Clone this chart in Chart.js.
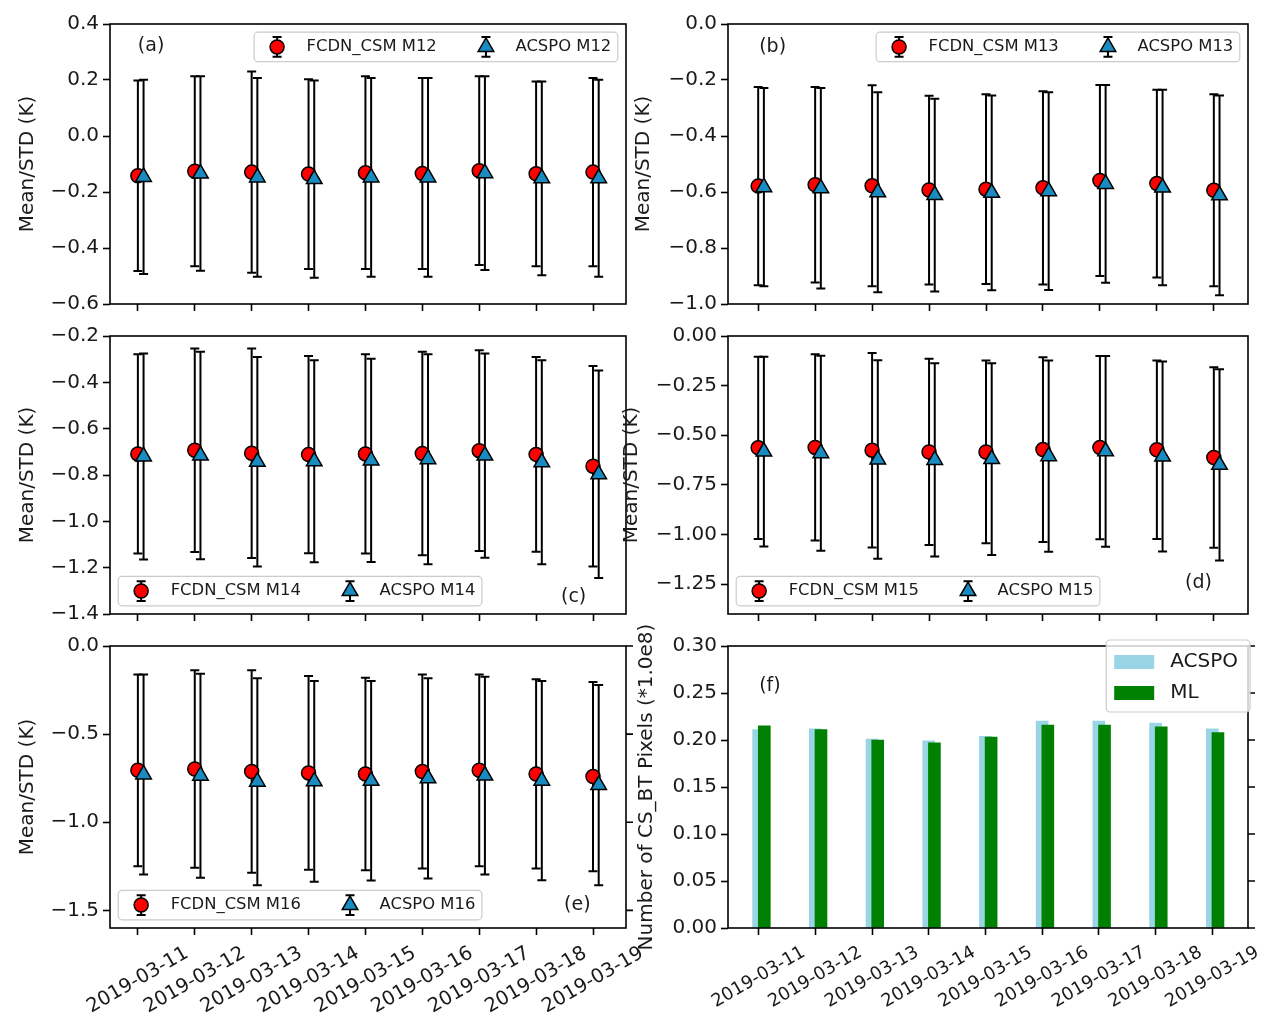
<!DOCTYPE html>
<html>
<head>
<meta charset="utf-8">
<script src="https://cdn.jsdelivr.net/npm/chart.js"></script>
<style>
  body { margin: 0; background: #fff; }
  #fig { position: relative; width: 1271px; height: 1027px; overflow: hidden; background: #fff; }
  #fig canvas { position: absolute; }
</style>
</head>
<body>
<div id="fig">
  <canvas id="pa" width="660" height="320" style="left:0px;top:0px"></canvas>
  <canvas id="pb" width="671" height="320" style="left:600px;top:0px"></canvas>
  <canvas id="pc" width="660" height="310" style="left:0px;top:320px"></canvas>
  <canvas id="pd" width="671" height="310" style="left:600px;top:320px"></canvas>
  <canvas id="pe" width="660" height="397" style="left:0px;top:630px"></canvas>
  <canvas id="pf" width="671" height="417" style="left:600px;top:610px"></canvas>
</div>
<script>
// ---- data ----
const dates = ['2019-03-11', '2019-03-12', '2019-03-13', '2019-03-14', '2019-03-15',
               '2019-03-16', '2019-03-17', '2019-03-18', '2019-03-19'];

// mean and std (K), FCDN_CSM and ACSPO, per band
const fcdnM12     = [-0.142, -0.126, -0.129, -0.136, -0.131, -0.134, -0.124, -0.135, -0.129];
const fcdnM12Std  = [0.340, 0.339, 0.359, 0.339, 0.344, 0.341, 0.337, 0.330, 0.336];
const acspoM12    = [-0.146, -0.134, -0.148, -0.154, -0.148, -0.148, -0.133, -0.151, -0.151];
const acspoM12Std = [0.347, 0.347, 0.355, 0.352, 0.355, 0.355, 0.346, 0.346, 0.352];

const fcdnM13     = [-0.579, -0.574, -0.578, -0.593, -0.590, -0.585, -0.559, -0.570, -0.594];
const fcdnM13Std  = [0.354, 0.349, 0.359, 0.337, 0.339, 0.345, 0.341, 0.335, 0.343];
const acspoM13    = [-0.583, -0.587, -0.601, -0.611, -0.603, -0.597, -0.571, -0.584, -0.612];
const acspoM13Std = [0.354, 0.358, 0.357, 0.344, 0.348, 0.353, 0.353, 0.349, 0.357];

const fcdnM14     = [-0.709, -0.693, -0.706, -0.712, -0.709, -0.707, -0.695, -0.711, -0.762];
const fcdnM14Std  = [0.430, 0.439, 0.452, 0.426, 0.430, 0.439, 0.433, 0.420, 0.433];
const acspoM14    = [-0.720, -0.716, -0.743, -0.741, -0.737, -0.732, -0.716, -0.745, -0.797];
const acspoM14Std = [0.445, 0.448, 0.452, 0.436, 0.439, 0.453, 0.441, 0.440, 0.448];

const fcdnM15     = [-0.563, -0.561, -0.575, -0.584, -0.584, -0.572, -0.562, -0.573, -0.612];
const fcdnM15Std  = [0.459, 0.469, 0.490, 0.469, 0.460, 0.465, 0.461, 0.449, 0.454];
const acspoM15    = [-0.582, -0.590, -0.622, -0.624, -0.620, -0.605, -0.581, -0.607, -0.649];
const acspoM15Std = [0.478, 0.491, 0.500, 0.487, 0.483, 0.481, 0.480, 0.478, 0.482];

const fcdnM16     = [-0.705, -0.698, -0.712, -0.720, -0.726, -0.712, -0.705, -0.726, -0.741];
const fcdnM16Std  = [0.544, 0.560, 0.574, 0.550, 0.546, 0.551, 0.544, 0.537, 0.537];
const acspoM16    = [-0.729, -0.736, -0.770, -0.768, -0.765, -0.751, -0.735, -0.764, -0.789];
const acspoM16Std = [0.568, 0.579, 0.587, 0.569, 0.566, 0.568, 0.561, 0.565, 0.568];

// number of clear-sky BT pixels (*1.0e8)
const pixelsAcspo = [0.211, 0.212, 0.201, 0.199, 0.204, 0.220, 0.220, 0.218, 0.212];
const pixelsMl    = [0.215, 0.211, 0.200, 0.197, 0.203, 0.216, 0.216, 0.214, 0.208];

// tick values of the y axes
const ticksA = [-0.6, -0.4, -0.2, 0.0, 0.2, 0.4];
const ticksB = [-1.0, -0.8, -0.6, -0.4, -0.2, 0.0];
const ticksC = [-1.4, -1.2, -1.0, -0.8, -0.6, -0.4, -0.2];
const ticksD = [-1.25, -1.0, -0.75, -0.5, -0.25, 0.0];
const ticksE = [-1.5, -1.0, -0.5, 0.0];
const ticksF = [0.0, 0.05, 0.10, 0.15, 0.20, 0.25, 0.30];

// ---- style ----
const TXT = '#1a1a1a';
const RED = '#ff0000';
const BLUE = '#1a8bc0';
const DODGE = 0.1;       // ACSPO is drawn a little to the right of each day
Chart.defaults.font.family = '"DejaVu Sans", sans-serif';
Chart.defaults.color = TXT;
Chart.defaults.animation = false;

function fmt(v, dec) {
  if (Math.abs(v) < 1e-9) return (0).toFixed(dec);
  return (v < 0 ? '\u2212' : '') + Math.abs(v).toFixed(dec);
}

function legendBox(ctx, x, y, w, h) {
  ctx.beginPath();
  ctx.roundRect(x, y, w, h, 4);
  ctx.fillStyle = 'rgba(255,255,255,0.8)';
  ctx.fill();
  ctx.strokeStyle = '#cccccc';
  ctx.lineWidth = 1.2;
  ctx.stroke();
}

function errLegend(ctx, chart, o) {
  const a = chart.chartArea, f = o.legendSize;
  ctx.font = f + 'px "DejaVu Sans"';
  const items = chart.data.datasets;
  const pad = 0.4 * f, hl = 2 * f, htp = 0.8 * f, cs = 2 * f;
  const widths = items.map(ds => ctx.measureText(ds.label).width);
  const W = 2 * pad + items.length * (hl + htp) + widths.reduce((s, w) => s + w, 0) + cs * (items.length - 1);
  const H = 1.8 * f;
  const x0 = o.legendLoc.includes('right') ? a.right - 0.5 * f - W : a.left + 0.5 * f;
  const y0 = o.legendLoc.includes('upper') ? a.top + 0.5 * f : a.bottom - 0.5 * f - H;
  legendBox(ctx, x0, y0, W, H);
  const cy = y0 + H / 2;
  let x = x0 + pad;
  items.forEach((ds, i) => {
    const mx = x + hl / 2, e = 0.6 * f;
    ctx.strokeStyle = '#000';
    ctx.lineWidth = o.errWidth;
    ctx.beginPath();
    ctx.moveTo(mx, cy - e); ctx.lineTo(mx, cy + e);
    ctx.moveTo(mx - o.cap, cy - e); ctx.lineTo(mx + o.cap, cy - e);
    ctx.moveTo(mx - o.cap, cy + e); ctx.lineTo(mx + o.cap, cy + e);
    ctx.stroke();
    ctx.fillStyle = ds.backgroundColor;
    ctx.strokeStyle = '#000';
    ctx.lineWidth = ds.borderWidth;
    Chart.helpers.drawPoint(ctx, {pointStyle: ds.pointStyle, radius: ds.pointRadius, rotation: 0, borderWidth: ds.borderWidth}, mx, cy);
    x += hl + htp;
    ctx.fillStyle = TXT;
    ctx.textAlign = 'left';
    ctx.textBaseline = 'middle';
    ctx.fillText(ds.label, x, cy);
    x += widths[i] + cs;
  });
}

function barLegend(ctx, chart, o) {
  const a = chart.chartArea, f = o.legendSize;
  ctx.font = f + 'px "DejaVu Sans"';
  const items = chart.data.datasets;
  const pad = 0.4 * f, hl = 2 * f, htp = 0.8 * f;
  const tw = Math.max(...items.map(ds => ctx.measureText(ds.label).width));
  const W = 2 * pad + hl + htp + tw + 4;
  const H = 3.6 * f;
  const x0 = a.right + 2 - W, y0 = a.top - 6;
  legendBox(ctx, x0, y0, W, H);
  items.forEach((ds, i) => {
    const cy = y0 + 1.1 * f + i * 1.55 * f;
    ctx.fillStyle = ds.backgroundColor;
    ctx.fillRect(x0 + pad, cy - 0.35 * f, hl, 0.7 * f);
    ctx.fillStyle = TXT;
    ctx.textAlign = 'left';
    ctx.textBaseline = 'middle';
    ctx.fillText(ds.label, x0 + pad + hl + htp, cy);
  });
}

const deco = {
  id: 'deco',
  beforeDatasetsDraw(chart, args, o) {
    const ctx = chart.ctx, ys = chart.scales.y;
    chart.data.datasets.forEach((ds, di) => {
      if (!ds.errors) return;
      const meta = chart.getDatasetMeta(di);
      ctx.save();
      ctx.strokeStyle = '#000';
      ctx.lineWidth = o.errWidth;
      ctx.beginPath();
      meta.data.forEach((el, i) => {
        const m = ds.data[i].y, e = ds.errors[i];
        const t = ys.getPixelForValue(m + e), b = ys.getPixelForValue(m - e);
        ctx.moveTo(el.x, t); ctx.lineTo(el.x, b);
        ctx.moveTo(el.x - o.cap, t); ctx.lineTo(el.x + o.cap, t);
        ctx.moveTo(el.x - o.cap, b); ctx.lineTo(el.x + o.cap, b);
      });
      ctx.stroke();
      ctx.restore();
    });
  },
  afterDraw(chart, args, o) {
    const ctx = chart.ctx, a = chart.chartArea;
    const ys = chart.scales.y, xs = chart.scales.x;
    ctx.save();
    ctx.strokeStyle = '#000';
    ctx.lineWidth = 1.6;
    ctx.strokeRect(a.left, a.top, a.right - a.left, a.bottom - a.top);
    if (o.rightTicks) {
      ctx.beginPath();
      ys.ticks.forEach(t => {
        const py = ys.getPixelForValue(t.value);
        ctx.moveTo(a.right, py); ctx.lineTo(a.right + 7, py);
      });
      ctx.stroke();
    }
    if (o.dateSize) {
      ctx.font = o.dateSize + 'px "DejaVu Sans"';
      ctx.fillStyle = TXT;
      xs.ticks.forEach(t => {
        const label = dates[Math.round(t.value)];
        const px = xs.getPixelForValue(t.value);
        const L = ctx.measureText(label).width, h = 1.17 * o.dateSize;
        const H = L * 0.5 + h * 0.866;
        ctx.save();
        ctx.translate(px, a.bottom + 14 + H / 2);
        ctx.rotate(-Math.PI / 6);
        ctx.textAlign = 'center';
        ctx.textBaseline = 'middle';
        ctx.fillText(label, 0, 0);
        ctx.restore();
      });
    }
    ctx.font = '19px "DejaVu Sans"';
    ctx.fillStyle = TXT;
    ctx.textAlign = 'left';
    ctx.textBaseline = 'middle';
    ctx.fillText(o.tag, a.left + o.tagAt[0] * (a.right - a.left), a.top + o.tagAt[1] * (a.bottom - a.top));
    if (o.kind === 'bar') barLegend(ctx, chart, o); else errLegend(ctx, chart, o);
    ctx.restore();
  }
};

function yAxis(p) {
  return {
    min: p.yMin, max: p.yMax,
    afterFit: s => { s.width = p.yw; },
    afterBuildTicks: s => { s.ticks = p.yTicks.map(v => ({value: v})); },
    ticks: {font: {size: 20}, padding: 4, color: TXT, callback: v => fmt(v, p.dec)},
    grid: {drawOnChartArea: false, drawTicks: true, tickLength: 7, tickWidth: 1.6, tickColor: '#000'},
    border: {display: false},
    title: {display: true, text: p.yTitle, font: {size: 20}, padding: 0, color: TXT}
  };
}

function xAxis(p) {
  return {
    type: 'linear', min: p.xMin, max: p.xMax, offset: false,
    afterFit: s => { s.height = 8; },
    afterBuildTicks: s => { s.ticks = dates.map((d, i) => ({value: i})); },
    ticks: {display: false},
    grid: {drawOnChartArea: false, drawTicks: true, tickLength: 7, tickWidth: 1.6, tickColor: '#000', offset: false},
    border: {display: false}
  };
}

function errPanel(p) {
  const mk = (vals, std, label, style, color, r, shift, order) => ({
    label: label,
    data: vals.map((v, i) => ({x: i + shift, y: v})),
    errors: std,
    pointStyle: style, pointRadius: r, pointHoverRadius: r,
    backgroundColor: color, borderColor: '#000', borderWidth: 1.5,
    showLine: false, order: order
  });
  new Chart(document.getElementById(p.id), {
    type: 'scatter',
    data: {
      datasets: [
        mk(p.fcdn, p.fcdnStd, 'FCDN_CSM ' + p.band, 'circle', RED, 7, 0, 1),
        mk(p.acspo, p.acspoStd, 'ACSPO ' + p.band, 'triangle', BLUE, 9, DODGE, 0)
      ]
    },
    options: {
      responsive: false, events: [],
      layout: {padding: p.pad},
      scales: {x: xAxis(p), y: yAxis(p)},
      plugins: {
        legend: {display: false}, tooltip: {enabled: false},
        deco: {kind: 'err', tag: p.tag, tagAt: p.tagAt, legendLoc: p.legendLoc, legendSize: 16.4,
               cap: 4.5, errWidth: 2, dateSize: p.dateSize, rightTicks: p.rightTicks}
      }
    },
    plugins: [deco]
  });
}

const yTitle = 'Mean/STD (K)';
errPanel({id: 'pa', band: 'M12', fcdn: fcdnM12, fcdnStd: fcdnM12Std, acspo: acspoM12, acspoStd: acspoM12Std,
  yMin: -0.6, yMax: 0.4, yTicks: ticksA, dec: 1, yTitle: yTitle, xMin: -0.49, xMax: 8.58,
  pad: {left: 16, top: 24, right: 34, bottom: 6}, yw: 94, tag: '(a)', tagAt: [0.054, 0.078], legendLoc: 'upper right'});
errPanel({id: 'pb', band: 'M13', fcdn: fcdnM13, fcdnStd: fcdnM13Std, acspo: acspoM13, acspoStd: acspoM13Std,
  yMin: -1.0, yMax: 0.0, yTicks: ticksB, dec: 1, yTitle: yTitle, xMin: -0.53, xMax: 8.60,
  pad: {left: 32, top: 24, right: 23, bottom: 6}, yw: 96, tag: '(b)', tagAt: [0.06, 0.082], legendLoc: 'upper right'});
errPanel({id: 'pc', band: 'M14', fcdn: fcdnM14, fcdnStd: fcdnM14Std, acspo: acspoM14, acspoStd: acspoM14Std,
  yMin: -1.4, yMax: -0.2, yTicks: ticksC, dec: 1, yTitle: yTitle, xMin: -0.49, xMax: 8.58,
  pad: {left: 16, top: 15, right: 34, bottom: 5}, yw: 94, tag: '(c)', tagAt: [0.874, 0.94], legendLoc: 'lower left'});
errPanel({id: 'pd', band: 'M15', fcdn: fcdnM15, fcdnStd: fcdnM15Std, acspo: acspoM15, acspoStd: acspoM15Std,
  yMin: -1.4, yMax: 0.0, yTicks: ticksD, dec: 2, yTitle: yTitle, xMin: -0.53, xMax: 8.60,
  pad: {left: 20, top: 15, right: 23, bottom: 5}, yw: 108, tag: '(d)', tagAt: [0.879, 0.887], legendLoc: 'lower left'});
errPanel({id: 'pe', band: 'M16', fcdn: fcdnM16, fcdnStd: fcdnM16Std, acspo: acspoM16, acspoStd: acspoM16Std,
  yMin: -1.6, yMax: 0.0, yTicks: ticksE, dec: 1, yTitle: yTitle, xMin: -0.49, xMax: 8.58,
  pad: {left: 16, top: 15, right: 34, bottom: 91}, yw: 94, tag: '(e)', tagAt: [0.88, 0.919], legendLoc: 'lower left',
  dateSize: 19.5, rightTicks: true});

// panel (f): pixel counts
const pf = {yMin: 0, yMax: 0.30, yTicks: ticksF, dec: 2, yTitle: 'Number of CS_BT Pixels (*1.0e8)',
  xMin: -0.54, xMax: 8.63, yw: 93};
new Chart(document.getElementById('pf'), {
  type: 'bar',
  data: {
    datasets: [
      {label: 'ACSPO', data: pixelsAcspo.map((v, i) => ({x: i, y: v})), backgroundColor: '#9ad5e5',
       barThickness: 12, grouped: false, order: 1},
      {label: 'ML', data: pixelsMl.map((v, i) => ({x: i + DODGE, y: v})), backgroundColor: '#008000',
       barThickness: 12, grouped: false, order: 0}
    ]
  },
  options: {
    responsive: false, events: [],
    layout: {padding: {left: 35, top: 36, right: 23, bottom: 91}},
    scales: {x: xAxis(pf), y: yAxis(pf)},
    plugins: {
      legend: {display: false}, tooltip: {enabled: false},
      deco: {kind: 'bar', tag: '(f)', tagAt: [0.06, 0.141], legendSize: 20, dateSize: 18, rightTicks: true}
    }
  },
  plugins: [deco]
});
</script>
</body>
</html>
